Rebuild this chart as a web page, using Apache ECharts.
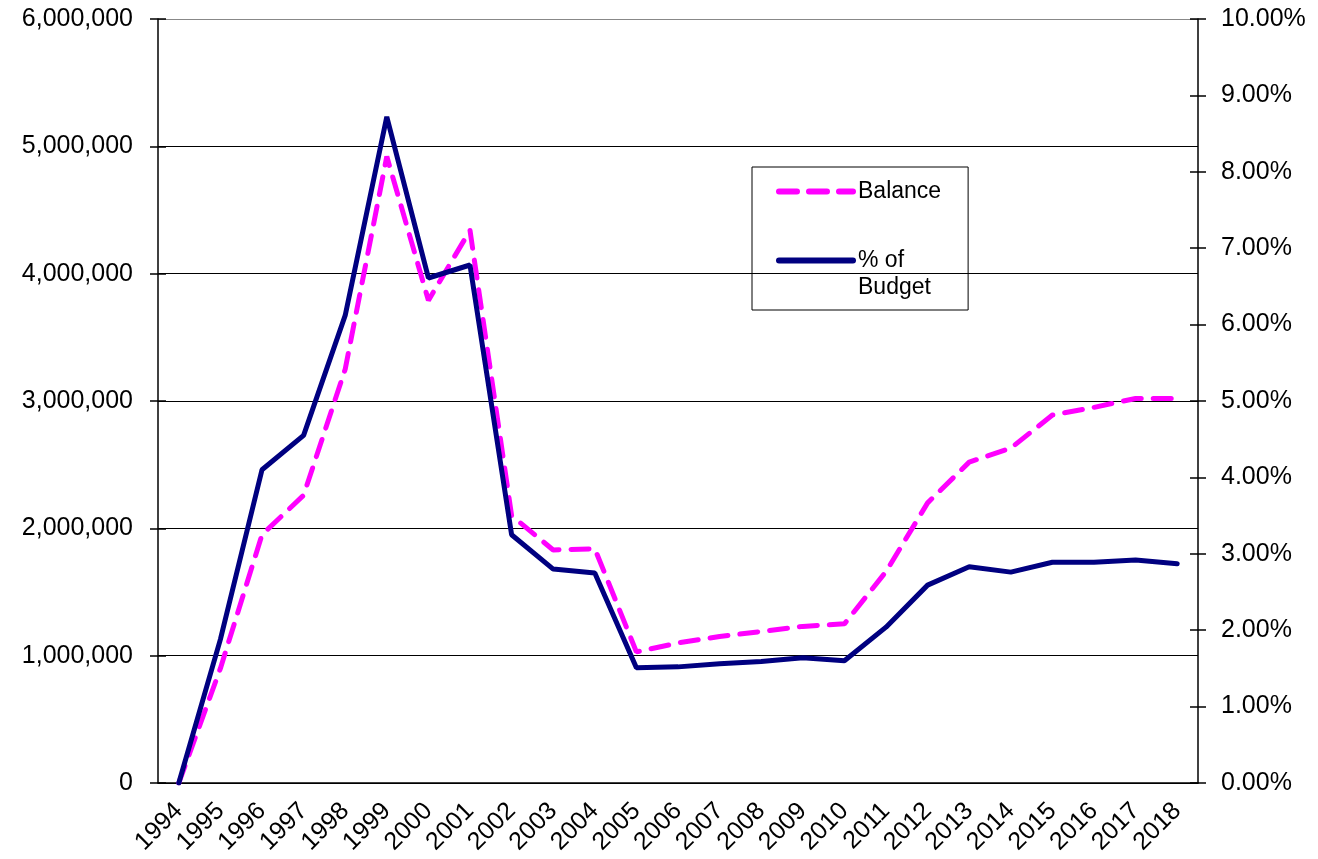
<!DOCTYPE html>
<html>
<head>
<meta charset="utf-8">
<script src="https://cdn.jsdelivr.net/npm/echarts@6/dist/echarts.min.js"></script>
<style>
  html, body { margin: 0; padding: 0; background: #fff; }
  #chart { width: 1318px; height: 859px; }
</style>
</head>
<body>
<div id="chart"></div>
<script>
const years = ['1994', '1995', '1996', '1997', '1998', '1999', '2000', '2001', '2002', '2003', '2004', '2005', '2006',
    '2007', '2008', '2009', '2010', '2011', '2012', '2013', '2014', '2015', '2016', '2017', '2018'];
// balance, left axis
const balance = [0, 900000, 1950000, 2260000, 3250000, 4920000, 3790000, 4340000, 2100000, 1830000, 1840000, 1030000,
    1100000, 1150000, 1190000, 1230000, 1250000, 1660000, 2200000, 2520000, 2630000, 2890000, 2950000, 3020000, 3020000];
// % of budget, right axis
const pctBudget = [0, 1.88, 4.10, 4.55, 6.12, 8.72, 6.61, 6.78, 3.25, 2.80, 2.75, 1.51,
    1.52, 1.56, 1.59, 1.64, 1.60, 2.04, 2.59, 2.83, 2.76, 2.89, 2.89, 2.92, 2.87];

const font = 'Liberation Sans, Arial, sans-serif';

const chart = echarts.init(document.getElementById('chart'));

function commas(v) {
    return String(v).replace(/\B(?=(\d{3})+(?!\d))/g, ',');
}

const tickStyle = {color: '#000', width: 1.5};

const option = {
    animation: false,
    textStyle: {fontFamily: font},
    grid: {left: 158, right: 120, top: 19, bottom: 76},
    legend: {
        orient: 'vertical',
        left: 752,
        top: 167,
        padding: [11, 27, 9, 24],
        itemGap: 15,
        itemWidth: 74,
        itemHeight: 14,
        borderColor: '#000',
        borderWidth: 1,
        borderRadius: 0,
        itemStyle: {opacity: 0},
        lineStyle: {width: 6, cap: 'round'},
        data: ['Balance', '% of Budget'],
        // blank first line keeps "% of" level with the icon
        formatter: function (name) {
            return name === '% of Budget' ? ' \n% of\nBudget' : name;
        },
        textStyle: {fontSize: 23, color: '#000', lineHeight: 27, fontFamily: font}
    },
    xAxis: [
        {
            type: 'category',
            data: years,
            boundaryGap: true,
            axisLine: {lineStyle: {color: '#000', width: 1.5}},
            axisTick: {length: 8, lineStyle: tickStyle},
            axisLabel: {
                interval: 0,
                rotate: 45,
                margin: 24,
                fontSize: 25,
                color: '#000',
                fontFamily: font
            },
            splitLine: {show: false}
        },
        {
            type: 'category',
            data: years,
            position: 'bottom',
            boundaryGap: true,
            axisLine: {show: false},
            axisTick: {inside: true, length: 8, lineStyle: tickStyle},
            axisLabel: {show: false},
            splitLine: {show: false}
        }
    ],
    yAxis: [
        {
            type: 'value',
            min: 0,
            max: 6000000,
            interval: 1000000,
            position: 'left',
            axisLine: {show: true, lineStyle: {color: '#000', width: 1.5}},
            axisTick: {show: true, length: 8, lineStyle: tickStyle},
            axisLabel: {
                margin: 25,
                fontSize: 25,
                color: '#000',
                fontFamily: font,
                formatter: commas
            },
            splitLine: {
                show: true,
                lineStyle: {color: ['#000', '#000', '#000', '#000', '#000', '#000', '#888'], width: 1}
            }
        },
        {
            type: 'value',
            min: 0,
            max: 10,
            interval: 1,
            position: 'right',
            axisLine: {show: true, lineStyle: {color: '#000', width: 1.5}},
            axisTick: {show: true, length: 8, lineStyle: tickStyle},
            axisLabel: {
                margin: 23,
                fontSize: 25,
                color: '#000',
                fontFamily: font,
                formatter: function (v) {
                    return v.toFixed(2) + '%';
                }
            },
            splitLine: {show: false}
        },
        {
            type: 'value',
            min: 0,
            max: 6000000,
            interval: 1000000,
            position: 'left',
            axisLine: {show: false},
            axisTick: {show: true, inside: true, length: 8, lineStyle: tickStyle},
            axisLabel: {show: false},
            splitLine: {show: false}
        },
        {
            type: 'value',
            min: 0,
            max: 10,
            interval: 1,
            position: 'right',
            axisLine: {show: false},
            axisTick: {show: true, inside: true, length: 8, lineStyle: tickStyle},
            axisLabel: {show: false},
            splitLine: {show: false}
        }
    ],
    series: [
        {
            name: 'Balance',
            type: 'line',
            yAxisIndex: 0,
            data: balance,
            symbol: 'none',
            itemStyle: {color: '#FF00FF'},
            lineStyle: {color: '#FF00FF', width: 5, type: [18, 12], cap: 'round'}
        },
        {
            name: '% of Budget',
            type: 'line',
            yAxisIndex: 1,
            data: pctBudget,
            symbol: 'none',
            itemStyle: {color: '#000080'},
            lineStyle: {color: '#000080', width: 5, cap: 'round'}
        }
    ]
};

chart.setOption(option);
</script>
</body>
</html>
